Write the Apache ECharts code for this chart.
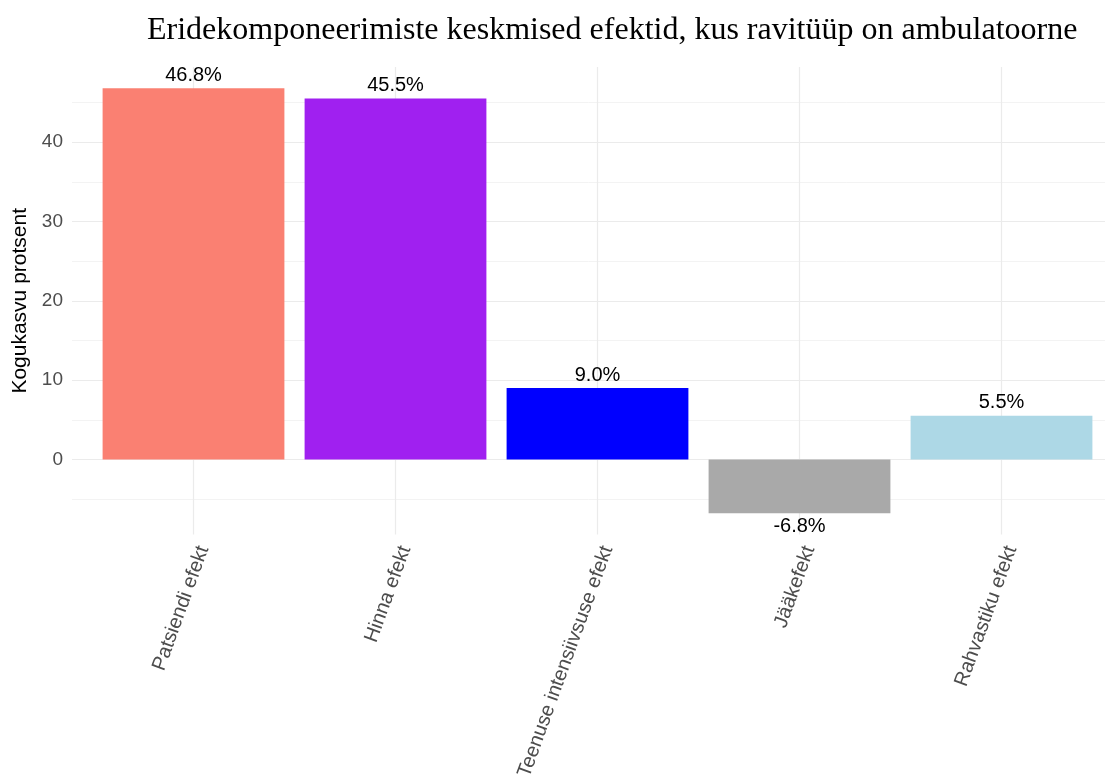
<!DOCTYPE html>
<html>
<head>
<meta charset="utf-8">
<script src="https://cdn.jsdelivr.net/npm/echarts@6/dist/echarts.min.js"></script>
<style>
  html, body { margin: 0; padding: 0; background: #ffffff; }
  #chart { width: 1105px; height: 778px; }
</style>
</head>
<body>
<div id="chart"></div>
<script>
// Decomposition components and their average effect (%)
const categories = ['Patsiendi efekt', 'Hinna efekt', 'Teenuse intensiivsuse efekt', 'Jääkefekt', 'Rahvastiku efekt'];
const values = [46.8, 45.5, 9.0, -6.8, 5.5];
const barColors = ['#FA8072', '#A020F0', '#0000FF', '#A9A9A9', '#ADD8E6'];
const yTickLabels = [0, 10, 20, 30, 40];

const SANS = '"Liberation Sans", Arial, sans-serif';
const GRID_MAJOR = '#EBEBEB';
const GRID_MINOR = '#F3F3F3';
const CLEAR = 'rgba(0,0,0,0)';

// panel y scale shared by the background grid and the bars
const yMin = -10, yMax = 50, yStep = 10;
const majorColors = [];
for (let v = yMin; v <= yMax; v += yStep) {
  majorColors.push(v === yMin || v === yMax ? CLEAR : GRID_MAJOR);
}

const chart = echarts.init(document.getElementById('chart'), null, { renderer: 'canvas' });

chart.setOption({
  backgroundColor: '#ffffff',
  animation: false,
  title: {
    text: 'Eridekomponeerimiste keskmised efektid, kus ravitüüp on ambulatoorne',
    left: 142,
    top: 10,
    textStyle: {
      fontFamily: '"Liberation Serif", "Times New Roman", serif',
      fontSize: 32,
      fontWeight: 'normal',
      color: '#000000'
    }
  },
  grid: [
    // horizontal grid lines + y axis
    { left: 72, right: 0, top: 62.9, bottom: 239.3, outerBoundsMode: 'none' },
    // vertical grid lines at the category centres
    { left: 193.5, right: 103.5, top: 67, bottom: 243.4, outerBoundsMode: 'none' },
    // bars
    { left: 92.5, right: 2.5, top: 62.9, bottom: 239.3, outerBoundsMode: 'none' },
    // rotated category labels (anchored slightly right of the centre line)
    { left: 203.5, right: 93.5, top: 67, bottom: 243.4, outerBoundsMode: 'none' }
  ],
  xAxis: [
    { gridIndex: 0, type: 'value', show: false },
    {
      gridIndex: 1,
      type: 'category',
      data: categories,
      boundaryGap: false,
      axisLine: { show: false },
      axisTick: { show: false },
      axisLabel: { show: false },
      splitLine: { show: true, lineStyle: { color: GRID_MAJOR, width: 1.2 } }
    },
    { gridIndex: 2, type: 'category', data: categories, boundaryGap: true, show: false },
    {
      gridIndex: 3,
      type: 'category',
      data: categories,
      boundaryGap: false,
      axisLine: { show: false },
      axisTick: { show: false },
      splitLine: { show: false },
      axisLabel: {
        rotate: 70,
        margin: 12,
        interval: 0,
        fontFamily: SANS,
        fontSize: 20,
        color: '#4D4D4D'
      }
    }
  ],
  yAxis: [
    {
      gridIndex: 0,
      type: 'value',
      min: yMin,
      max: yMax,
      interval: yStep,
      axisLine: { show: false },
      axisTick: { show: false },
      axisLabel: {
        margin: 9,
        fontFamily: SANS,
        fontSize: 19,
        color: '#4D4D4D',
        formatter: v => (yTickLabels.includes(v) ? String(v) : '')
      },
      splitLine: { show: true, lineStyle: { color: majorColors, width: 1.2 } },
      minorTick: { show: false, splitNumber: 2 },
      minorSplitLine: { show: true, lineStyle: { color: GRID_MINOR, width: 1 } },
      name: 'Kogukasvu protsent',
      nameLocation: 'middle',
      nameGap: 33,
      nameTextStyle: { fontFamily: SANS, fontSize: 21, color: '#000000' }
    },
    { gridIndex: 1, type: 'value', show: false, min: 0, max: 1 },
    { gridIndex: 2, type: 'value', show: false, min: yMin, max: yMax },
    { gridIndex: 3, type: 'value', show: false, min: 0, max: 1 }
  ],
  series: [
    {
      type: 'bar',
      xAxisIndex: 2,
      yAxisIndex: 2,
      barWidth: '90%',
      data: values.map((v, i) => ({
        value: v,
        itemStyle: { color: barColors[i] },
        label: { position: v < 0 ? 'bottom' : 'top' }
      })),
      label: {
        show: true,
        distance: 3,
        fontFamily: SANS,
        fontSize: 20,
        color: '#000000',
        formatter: p => p.value.toFixed(1) + '%'
      }
    }
  ]
});
</script>
</body>
</html>
